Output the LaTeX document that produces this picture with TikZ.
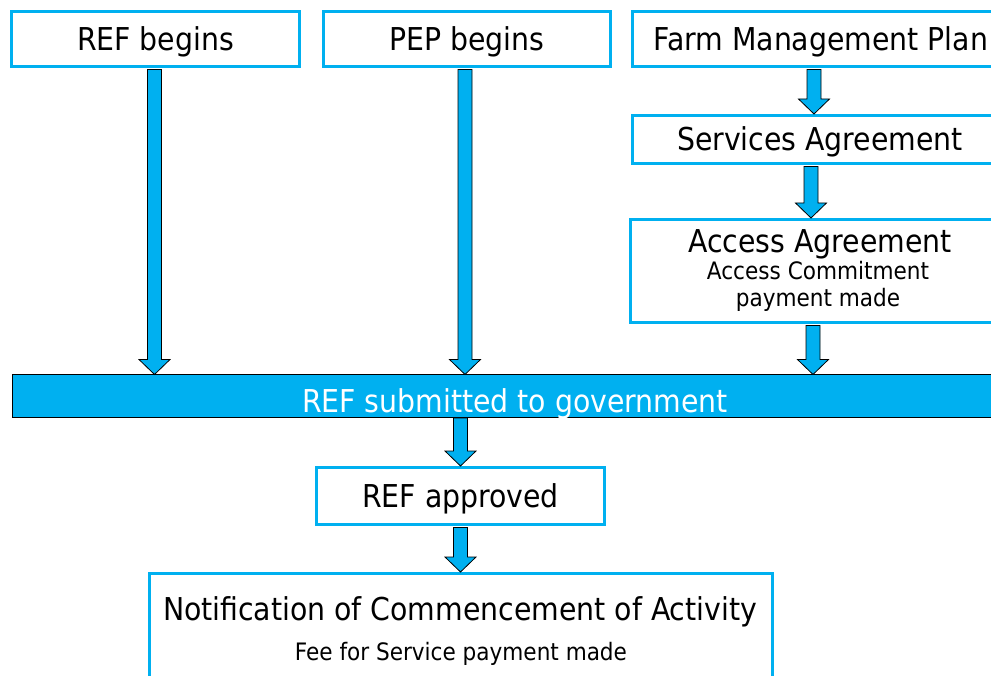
\documentclass[tikz,border=0pt]{standalone}
\usepackage{fontspec}
\setmainfont{DejaVu Sans Condensed}
\usetikzlibrary{calc}
\definecolor{cyanb}{RGB}{0,176,240}
\newcommand\blockarrow[2]{\draw[blk] let \p1=(#1), \p2=(#2) in (\x1-7pt,\y1) -- (\x1+7pt,\y1) -- (\x1+7pt,\y2+15pt) -- (\x1+15.5pt,\y2+15pt) -- (\x1,\y2) -- (\x1-15.5pt,\y2+15pt) -- (\x1-7pt,\y2+15pt) -- cycle;}
\tikzset{
  bigtext/.style={font=\fontsize{31.5}{36}\selectfont, inner sep=0pt},
  smalltext/.style={font=\fontsize{24}{28}\selectfont, inner sep=0pt},
  box/.style={draw=cyanb, line width=3pt, fill=white, inner sep=0pt, text height=23pt, text depth=0pt, bigtext},
  barbox/.style={draw=black, line width=1pt, fill=cyanb, inner sep=0pt},
  blk/.style={draw=black, line width=0.8pt, fill=cyanb, line join=miter},
}
\begin{document}
\begin{tikzpicture}[x=1pt,y=-1pt]
\useasboundingbox (0,0) rectangle (991,676);
\fill[white] (0,0) rectangle (991,676);
% top boxes
\node[box, minimum width=288pt, minimum height=55pt] (refb) at (155.5,39) {REF begins};
\node[box, minimum width=287pt, minimum height=55pt] (pepb) at (467,39) {PEP begins};
\node[box, minimum width=377pt, minimum height=55pt] (farm) at (821,39) {Farm Management Plan};
\node[box, minimum width=375pt, minimum height=48pt] (serv) at (820,139.5) {Services Agreement};
\node[box, minimum width=379pt, minimum height=103pt] (access) at (820,271) {};
\node[bigtext, anchor=base] (acct) at (820,253) {Access Agreement};
\node[smalltext, anchor=base] (accs1) at (818,280) {Access Commitment};
\node[smalltext, anchor=base] (accs2) at (818,307) {payment made};
% bar
\node[barbox, minimum width=1006pt, minimum height=42pt] (bar) at (515,396) {};
\node[bigtext, text=white, anchor=base] (bart) at (515,413) {REF submitted to government};
% lower boxes
\node[box, minimum width=288pt, minimum height=57pt] (appr) at (460.5,496) {REF approved};
\node[box, minimum width=623pt, minimum height=115pt] (notif) at (461,631) {};
\node[bigtext, anchor=base] (notift) at (460,620) {Notification of Commencement of Activity};
\node[smalltext, anchor=base] (notifs) at (461,660) {Fee for Service payment made};
% arrow start points
\coordinate (a1) at ($(refb.south)+(-1,1.5)$);
\coordinate (a2) at ($(pepb.south)+(-2,1.5)$);
\coordinate (a3) at ($(farm.south)+(-7,1.5)$);
\coordinate (a4) at ($(serv.south)+(-9,1.5)$);
\coordinate (a5) at ($(access.south)+(-7,1.5)$);
\coordinate (a6) at ($(appr.north |- bar.south)+(0,0.5)$);
\coordinate (a7) at ($(appr.south)+(0,1.5)$);
\blockarrow{a1}{bar.north}
\blockarrow{a2}{bar.north}
\blockarrow{a3}{serv.north}
\blockarrow{a4}{access.north}
\blockarrow{a5}{bar.north}
\blockarrow{a6}{appr.north}
\blockarrow{a7}{notif.north}
\end{tikzpicture}
\end{document}
